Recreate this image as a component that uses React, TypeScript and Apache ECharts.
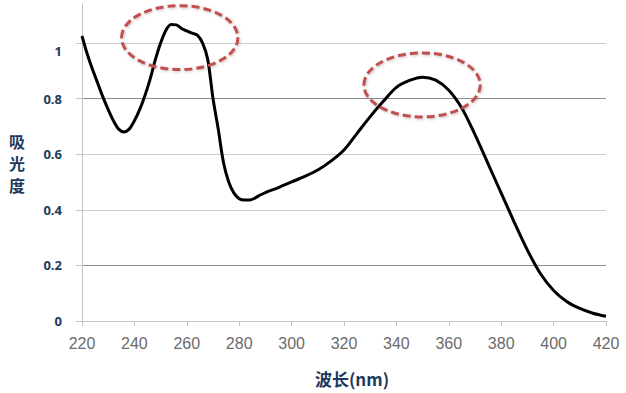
import React, { useEffect, useRef } from "react";
import * as echarts from "echarts";

const wavelengths = [
  220, 222, 224, 226, 228, 230, 232, 234, 236, 238, 240, 242, 244, 246, 248, 250, 252, 254, 256, 258, 260,
  262, 264, 266, 268, 270, 272, 274, 276, 278, 280, 282, 284, 286, 288, 290, 295, 300, 305, 310, 315, 320,
  325, 330, 335, 340, 345, 350, 355, 360, 365, 370, 375, 380, 385, 390, 395, 400, 405, 410, 415, 420,
];
const absorbance = [
  1.025, 0.96, 0.905, 0.855, 0.805, 0.76, 0.72, 0.69, 0.68, 0.69, 0.72, 0.76, 0.81, 0.87, 0.94, 1.0, 1.045, 1.066,
  1.065, 1.052, 1.043, 1.035, 1.028, 1.0, 0.94, 0.8, 0.69, 0.57, 0.5, 0.46, 0.44, 0.435, 0.435, 0.442, 0.453,
  0.462, 0.48, 0.5, 0.52, 0.543, 0.575, 0.615, 0.675, 0.735, 0.79, 0.84, 0.865, 0.877, 0.866, 0.83,
  0.765, 0.67, 0.565, 0.46, 0.355, 0.255, 0.17, 0.11, 0.07, 0.045, 0.028, 0.017,
];
const xTicks = [220, 240, 260, 280, 300, 320, 340, 360, 380, 400, 420];
const yTicks = [0, 0.2, 0.4, 0.6, 0.8, 1];
// highlighted peaks: [center wavelength, center absorbance, half-width nm, half-height]
const peakMarks = [
  [257.3, 1.019, 22.2, 0.115],
  [349.8, 0.849, 22.2, 0.115],
];

const NAVY = "#203a5c";

export default function App() {
  const ref = useRef<HTMLDivElement>(null);
  useEffect(() => {
    if (!ref.current) return;
    const chart = echarts.init(ref.current, null, { renderer: "svg" });
    const data = wavelengths.map((w, i) => [w, absorbance[i]]);
    chart.setOption({
      animation: false,
      grid: { left: 82, right: 20, top: 4, bottom: 72, containLabel: false, outerBoundsMode: "none" },
      xAxis: {
        type: "value",
        min: xTicks[0],
        max: xTicks[xTicks.length - 1],
        interval: 20,
        name: "波长(nm)",
        nameLocation: "middle",
        nameGap: 49,
        nameTextStyle: {
          fontFamily: "'Noto Sans CJK SC', 'Open Sans', sans-serif",
          fontWeight: "bold",
          fontSize: 17,
          color: NAVY,
          padding: [0, 0, 0, 16],
        },
        axisLine: { show: true, lineStyle: { color: "#c4c4c4", width: 1 } },
        axisTick: { show: true, length: 5, lineStyle: { color: "#c4c4c4" } },
        axisLabel: {
          margin: 14,
          fontFamily: "'Liberation Sans', Arial, sans-serif",
          fontSize: 16,
          color: "#6b6b6b",
        },
        splitLine: { show: false },
      },
      yAxis: {
        type: "value",
        min: 0,
        max: 1.14,
        interval: 0.2,
        name: "吸\n光\n度",
        nameLocation: "middle",
        nameRotate: 0,
        nameGap: 65,
        nameTextStyle: {
          fontFamily: "'Noto Sans CJK SC', sans-serif",
          fontWeight: "bold",
          fontSize: 16,
          lineHeight: 22,
          color: NAVY,
          align: "center",
          verticalAlign: "middle",
        },
        axisLine: { show: true, onZero: false, lineStyle: { color: "#c4c4c4", width: 1 } },
        axisTick: { show: true, length: 6, inside: false, lineStyle: { color: "#c4c4c4" } },
        axisLabel: {
          showMaxLabel: false,
          margin: 20,
          fontFamily: "'Open Sans', sans-serif",
          fontWeight: "bold",
          fontSize: 13,
          color: NAVY,
          formatter: (v: number) => {
            if (!yTicks.some((t) => Math.abs(t - v) < 1e-6)) return "";
            const s = String(+v.toFixed(1));
            return Math.abs(v - 1) < 1e-6 ? "{one|" + s + "}" : s;
          },
          rich: {
            one: {
              fontFamily: "'Open Sans', sans-serif",
              fontWeight: "bold",
              fontSize: 13,
              color: NAVY,
              padding: [16, 0, 0, 0],
            },
          },
        },
        splitLine: {
          show: true,
          showMaxLine: false,
          lineStyle: { color: ["#c4c4c4", "#8c8c8c", "#cdcdcd", "#cdcdcd", "#8c8c8c", "#cdcdcd"], width: 1 },
        },
      },
      series: [
        {
          type: "line",
          data,
          smooth: 0.3,
          showSymbol: false,
          symbol: "none",
          lineStyle: { color: "#000000", width: 3 },
          clip: false,
        },
      ],
    });

    const graphics = peakMarks.map(([cx, cy, hw, hh]) => {
      const c = chart.convertToPixel({ gridIndex: 0 }, [cx, cy]) as number[];
      const e = chart.convertToPixel({ gridIndex: 0 }, [cx + hw, cy + hh]) as number[];
      return {
        type: "ellipse",
        shape: { cx: c[0], cy: c[1], rx: Math.abs(e[0] - c[0]), ry: Math.abs(c[1] - e[1]) },
        z: 10,
        style: {
          fill: "none",
          stroke: "#c0504d",
          lineWidth: 3,
          lineDash: [8, 4],
          shadowColor: "rgba(0,0,0,0.25)",
          shadowBlur: 3,
          shadowOffsetX: 1,
          shadowOffsetY: 1,
        },
      };
    });
    chart.setOption({ graphic: graphics });

    return () => chart.dispose();
  }, []);
  return (
    <div
      ref={ref}
      style={{ position: "fixed", left: 0, top: 0, width: 626, height: 393, background: "#ffffff" }}
    />
  );
}
